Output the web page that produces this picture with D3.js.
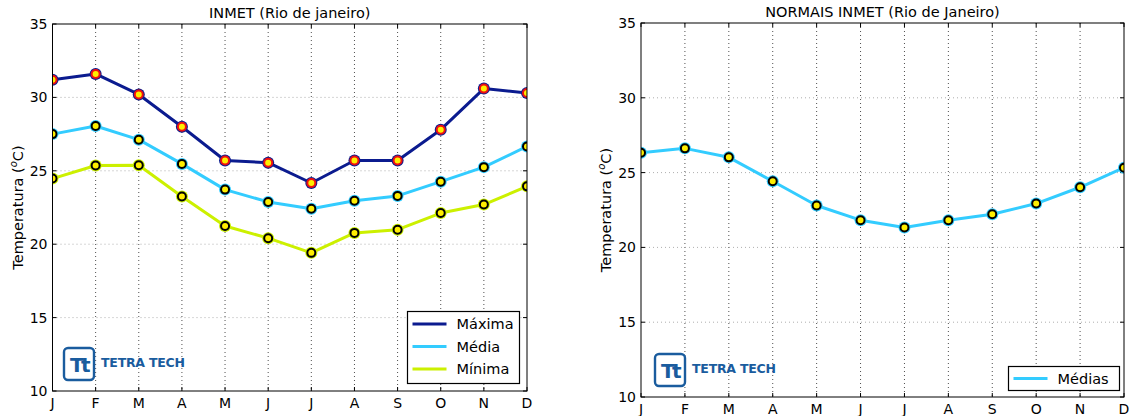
<!DOCTYPE html>
<html><head><meta charset="utf-8">
<script src="https://cdn.jsdelivr.net/npm/d3@7/dist/d3.min.js"></script>
<style>
html,body{margin:0;padding:0;background:#fff;}
svg{display:block;font-family:"DejaVu Sans",sans-serif;}
</style></head>
<body><svg id="c" width="1133" height="416"></svg>
<script>
const months = ["J","F","M","A","M","J","J","A","S","O","N","D"];
const yTicks = [10,15,20,25,30,35];
const maxima = [31.2,31.6,30.2,28.0,25.7,25.55,24.17,25.7,25.7,27.8,30.6,30.3];
const media  = [27.5,28.05,27.12,25.47,23.72,22.88,22.42,22.96,23.29,24.26,25.25,26.66];
const minima = [24.47,25.36,25.38,23.25,21.24,20.41,19.41,20.77,20.99,22.12,22.7,23.94];
const normais = [26.33,26.62,26.02,24.42,22.8,21.82,21.33,21.82,22.22,22.93,24.02,25.33];
const leftTitle = "INMET (Rio de janeiro)";
const rightTitle = "NORMAIS INMET (Rio de Janeiro)";
const leftSeries = [
  {name:"Máxima", values:maxima, color:"#0b1b8f", edge:"#ee1111"},
  {name:"Média", values:media, color:"#33ccff", edge:"#000"},
  {name:"Mínima", values:minima, color:"#ccf000", edge:"#000"}
];
const rightSeries = [{name:"Médias", values:normais, color:"#33ccff", edge:"#000"}];

const svg = d3.select("#c");
const BLUE = "#1a5c9e";

function panel(id, box, title, series, legendBox, logo) {
  const g = svg.append("g");
  const idx = d3.range(months.length);
  const x = d3.scaleLinear().domain([0, months.length-1]).range([box.x0, box.x1]);
  const y = d3.scaleLinear().domain([10,35]).range([box.y1, box.y0]);
  svg.append("defs").append("clipPath").attr("id","clip"+id)
    .append("rect").attr("x",box.x0).attr("y",box.y0).attr("width",box.x1-box.x0).attr("height",box.y1-box.y0);
  // grid
  g.append("g").selectAll("line").data(idx.slice(1,-1)).join("line")
    .attr("x1",d=>x(d)).attr("x2",d=>x(d)).attr("y1",box.y0).attr("y2",box.y1)
    .attr("stroke","#222").attr("stroke-width",0.8).attr("stroke-dasharray","1,3");
  g.append("g").selectAll("line").data(yTicks.slice(1,-1)).join("line")
    .attr("x1",box.x0).attr("x2",box.x1).attr("y1",d=>y(d)).attr("y2",d=>y(d))
    .attr("stroke","#999").attr("stroke-width",0.8).attr("stroke-dasharray","1,3");
  // ticks inside
  const tk = 4;
  g.append("g").selectAll("line").data(idx).join("line")
    .attr("x1",d=>x(d)).attr("x2",d=>x(d)).attr("y1",box.y1).attr("y2",box.y1-tk).attr("stroke","#000");
  g.append("g").selectAll("line").data(idx).join("line")
    .attr("x1",d=>x(d)).attr("x2",d=>x(d)).attr("y1",box.y0).attr("y2",box.y0+tk).attr("stroke","#000");
  g.append("g").selectAll("line").data(yTicks).join("line")
    .attr("x1",box.x0).attr("x2",box.x0+tk).attr("y1",d=>y(d)).attr("y2",d=>y(d)).attr("stroke","#000");
  g.append("g").selectAll("line").data(yTicks).join("line")
    .attr("x1",box.x1).attr("x2",box.x1-tk).attr("y1",d=>y(d)).attr("y2",d=>y(d)).attr("stroke","#000");
  // tick labels
  g.append("g").selectAll("text").data(idx).join("text")
    .attr("x",d=>x(d)).attr("y",box.y1+17).attr("text-anchor","middle")
    .attr("font-size",14).attr("fill","#000").text(d=>months[d]);
  g.append("g").selectAll("text").data(yTicks).join("text")
    .attr("x",box.x0-5).attr("y",d=>y(d)).attr("dy","0.36em").attr("text-anchor","end")
    .attr("font-size",14).attr("fill","#000").text(d=>d);
  // title
  g.append("text").attr("x",(box.x0+box.x1)/2).attr("y",box.y0-6).attr("text-anchor","middle")
    .attr("font-size",14.5).text(title);
  // y label
  const yl = g.append("text").attr("transform",`translate(${box.ylx},${(box.y0+box.y1)/2}) rotate(-90)`)
    .attr("text-anchor","middle").attr("font-size",14.5);
  yl.append("tspan").text("Temperatura (");
  yl.append("tspan").attr("font-size",10).attr("font-style","italic").attr("dy",-6).text("o");
  yl.append("tspan").attr("dy",6).text("C)");
  // logo
  const lg = g.append("g");
  lg.append("rect").attr("x",logo.x).attr("y",logo.y).attr("width",30).attr("height",32).attr("rx",4)
    .attr("fill","none").attr("stroke",BLUE).attr("stroke-width",2.4);
  lg.append("text").attr("x",logo.x+15).attr("y",logo.y+24).attr("text-anchor","middle")
    .attr("font-size",20).attr("font-weight","bold").attr("letter-spacing",-2.5).attr("fill",BLUE).text("Tt");
  lg.append("text").attr("x",logo.x+37).attr("y",logo.y+19).attr("font-size",12.5)
    .attr("font-weight","bold").attr("fill",BLUE).attr("textLength",84).text("TETRA TECH");
  // series
  const pg = g.append("g").attr("clip-path",`url(#clip${id})`);
  const line = d3.line().x((d,i)=>x(i)).y(d=>y(d));
  series.forEach(s=>{
    pg.append("path").datum(s.values).attr("d",line).attr("fill","none")
      .attr("stroke",s.color).attr("stroke-width",3).attr("stroke-linejoin","round");
  });
  series.forEach(s=>{
    const mg = pg.append("g");
    mg.selectAll("circle.o").data(s.values).join("circle").attr("class","o")
      .attr("cx",(d,i)=>x(i)).attr("cy",d=>y(d)).attr("r",6).attr("fill",s.color);
    mg.selectAll("circle.i").data(s.values).join("circle").attr("class","i")
      .attr("cx",(d,i)=>x(i)).attr("cy",d=>y(d)).attr("r",4).attr("fill","#ffee00")
      .attr("stroke",s.edge).attr("stroke-width",2);
  });
  // frame
  g.append("rect").attr("x",box.x0).attr("y",box.y0).attr("width",box.x1-box.x0).attr("height",box.y1-box.y0)
    .attr("fill","none").attr("stroke","#000").attr("stroke-width",1);
  // legend
  const L = legendBox;
  const leg = g.append("g");
  leg.append("rect").attr("x",L.x).attr("y",L.y).attr("width",L.w).attr("height",L.h)
    .attr("fill","#fff").attr("stroke","#000").attr("stroke-width",1.2);
  series.forEach((s,i)=>{
    const cy = L.y + L.pad + i*L.row;
    leg.append("line").attr("x1",L.x+5).attr("x2",L.x+39).attr("y1",cy).attr("y2",cy)
      .attr("stroke",s.color).attr("stroke-width",3);
    leg.append("text").attr("x",L.x+49).attr("y",cy).attr("dy","0.36em").attr("font-size",14.5).text(s.name);
  });
}

panel("L", {x0:52.5,x1:527,y0:24,y1:391,ylx:23}, leftTitle, leftSeries,
  {x:407.5,y:311.5,w:112,h:72,pad:12.5,row:22.5}, {x:64,y:348});
panel("R", {x0:641,x1:1124,y0:23,y1:397,ylx:611}, rightTitle, rightSeries,
  {x:1008.5,y:366.5,w:111,h:24,pad:12,row:22}, {x:655,y:354});
</script></body></html>
